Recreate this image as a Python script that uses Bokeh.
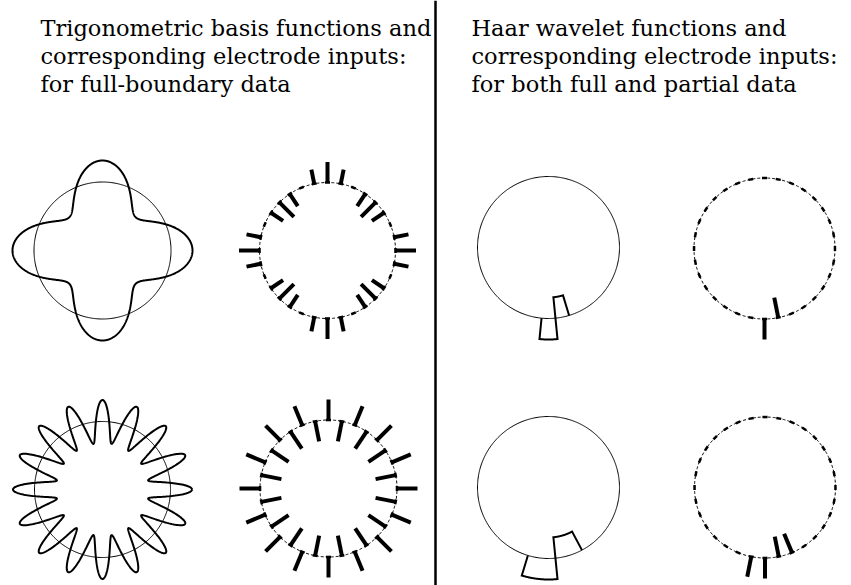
import numpy as np
from bokeh.plotting import figure
from bokeh.models import Range1d
from bokeh.core.properties import value
from bokeh.embed import file_html
from bokeh.resources import INLINE

# ---------------- data ----------------
left_title = ["Trigonometric basis functions and",
              "corresponding electrode inputs:",
              "for full-boundary data"]
right_title = ["Haar wavelet functions and",
               "corresponding electrode inputs:",
               "for both full and partial data"]

n_electrodes = 32
# frequencies of the two trigonometric basis functions cos(k*theta)
trig_freqs = [4, 16]
# electrode inputs (one value per electrode, electrode j at angle j*360/32 deg)
trig_inputs_low = [1, 0.71, 0, -0.71, -1, -0.71, 0, 0.71] * 4
trig_inputs_high = [1, -1] * 16
haar_inputs_1 = [0] * 24 + [1, -1] + [0] * 6
haar_inputs_2 = [0] * 23 + [1, 1, -1, -1] + [0] * 5

# ---------------- layout (page pixels) ----------------
W, H = 851, 585
p = figure(width=W, height=H, output_backend="svg", toolbar_location=None,
           x_range=Range1d(0, W), y_range=Range1d(H, 0),
           min_border=0, outline_line_color=None,
           background_fill_color="white", border_fill_color="white")
p.axis.visible = False
p.grid.visible = False

centers = {
    "trig1": (102, 250, 68.5), "elec1": (327, 250, 68),
    "trig2": (102, 489, 68), "elec2": (328, 488, 68.5),
    "haar1": (548, 247, 71), "helec1": (764, 248, 70.5),
    "haar2": (548, 487, 71), "helec2": (764.5, 487, 70.5),
}
CURVE_AMP = 21.5
BAR_LEN = 20.5
BOX_H = 21.0
dtheta = 2 * np.pi / n_electrodes


def pt(cx, cy, r, th):
    return cx + r * np.cos(th), cy - r * np.sin(th)


def draw_circle(cx, cy, r, dash=None):
    th = np.linspace(0, 2 * np.pi, 400)
    x, y = pt(cx, cy, r, th)
    if dash:
        p.line(x, y, line_color="black", line_width=1, line_dash=dash)
    else:
        p.line(x, y, line_color="black", line_width=1)


def draw_trig(key, k):
    cx, cy, r = centers[key]
    draw_circle(cx, cy, r)
    th = np.linspace(0, 2 * np.pi, 1200)
    rr = r + CURVE_AMP * np.cos(k * th)
    x, y = pt(cx, cy, rr, th)
    p.line(x, y, line_color="black", line_width=2)


def draw_electrodes(key, inputs):
    cx, cy, r = centers[key]
    draw_circle(cx, cy, r, dash="3 2")
    th = np.arange(n_electrodes) * dtheta
    half = 2.5 / r
    x0, y0 = pt(cx, cy, r, th - half)
    x1, y1 = pt(cx, cy, r, th + half)
    p.segment(x0, y0, x1, y1, line_color="black", line_width=2.5)
    v = np.array(inputs, dtype=float)
    m = v != 0
    bx0, by0 = pt(cx, cy, r, th[m])
    bx1, by1 = pt(cx, cy, r + BAR_LEN * v[m], th[m])
    p.segment(bx0, by0, bx1, by1, line_color="black", line_width=4,
              line_cap="butt")


def draw_haar(key, inputs):
    cx, cy, r = centers[key]
    draw_circle(cx, cy, r)
    v = np.array(inputs, dtype=float)
    idx = np.nonzero(v)[0]
    j0, j1 = idx[0], idx[-1]
    xs, ys = [], []
    x, y = pt(cx, cy, r, (j0 - 0.5) * dtheta)
    xs.append(x); ys.append(y)
    for j in range(j0, j1 + 1):
        a = np.linspace((j - 0.5) * dtheta, (j + 0.5) * dtheta, 30)
        x, y = pt(cx, cy, r + BOX_H * v[j], a)
        xs.extend(x); ys.extend(y)
    x, y = pt(cx, cy, r, (j1 + 0.5) * dtheta)
    xs.append(x); ys.append(y)
    p.line(xs, ys, line_color="black", line_width=2, line_join="miter")


draw_trig("trig1", trig_freqs[0])
draw_trig("trig2", trig_freqs[1])
draw_electrodes("elec1", trig_inputs_low)
draw_electrodes("elec2", trig_inputs_high)
draw_haar("haar1", haar_inputs_1)
draw_haar("haar2", haar_inputs_2)
draw_electrodes("helec1", haar_inputs_1)
draw_electrodes("helec2", haar_inputs_2)

# divider
p.line([435, 435], [0, H], line_color="black", line_width=2.5)

# titles (svg text sits ~7px below the anchor, so anchors are raised)
base = [27, 55, 83]
p.text(x=[40] * 3, y=base, text=left_title, text_font=value("DejaVu Serif"),
       text_font_size="22.5px", text_baseline="alphabetic", text_color="black")
p.text(x=[471] * 3, y=base, text=right_title, text_font=value("DejaVu Serif"),
       text_font_size="22.5px", text_baseline="alphabetic", text_color="black")

open("out.html", "w").write(file_html(p, INLINE))
